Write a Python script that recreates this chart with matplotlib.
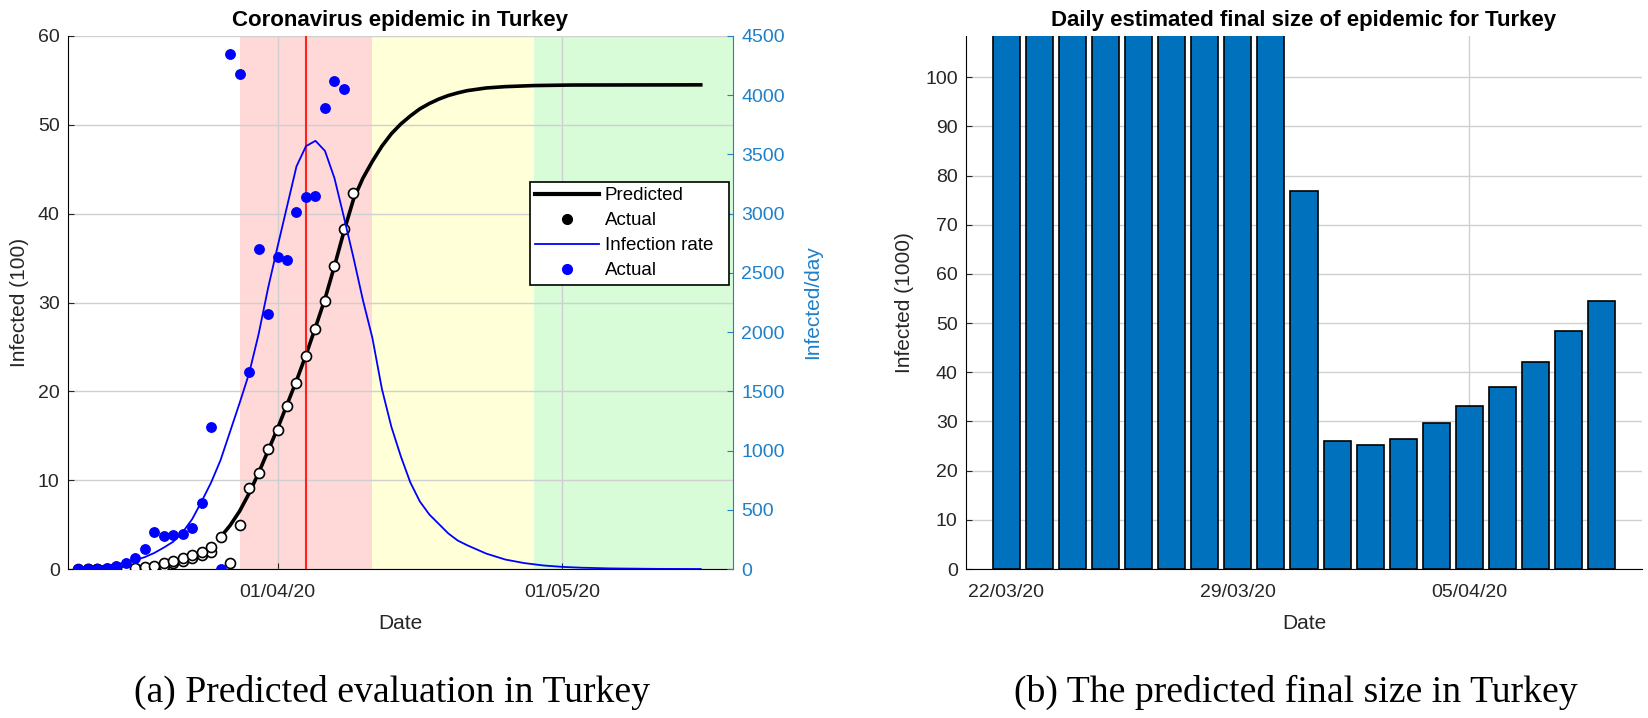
import matplotlib
matplotlib.use('Agg')
import matplotlib.pyplot as plt
from matplotlib.lines import Line2D

plt.rcParams['font.family'] = ['Liberation Sans', 'DejaVu Sans']

# ---- left panel data (x = days relative to 01/04/20) ----
actual_days = list(range(-21, 9))
actual_cum = [0.001, 0.001, 0.005, 0.006, 0.018, 0.047, 0.098, 0.191, 0.359, 0.670,
              0.947, 1.236, 1.529, 1.872, 2.433, 3.629, 0.64, 4.99, 9.17, 10.83,
              13.53, 15.68, 18.31, 20.92, 23.93, 27.07, 30.22, 34.11, 38.23, 42.28]
# second (lower) row of early circles
early_days = list(range(-20, -6))
early_cum = [0.001, 0.001, 0.005, 0.006, 0.018, 0.047, 0.098, 0.191, 0.359, 0.670,
             0.947, 1.236, 1.529, 1.872]
daily_days = list(range(-21, 8))
daily_actual = [0, 4, 1, 12, 29, 51, 93, 168, 311, 277, 289, 293, 343, 561, 1196,
                0, 4350, 4180, 1660, 2700, 2150, 2630, 2610, 3010, 3140, 3150, 3890, 4120, 4050]

pred_days = [-6, -5, -4, -3, -2, -1, 0, 1, 2, 3, 4, 5, 6, 7, 8, 9, 10, 11, 12, 13, 14,
             15, 16, 17, 18, 19, 20, 21, 22, 24, 27, 31, 44.6]
pred_cum = [3.6, 4.9, 6.5, 8.5, 10.8, 13.3, 15.8, 18.5, 21.2, 24.1, 27.2, 30.4, 34.1, 38.0,
            41.6, 44.0, 45.9, 47.6, 49.0, 50.1, 51.0, 51.8, 52.4, 52.9, 53.3, 53.6,
            53.85, 54.0, 54.15, 54.3, 54.42, 54.48, 54.5]

rate_days = [-21, -20, -19, -18, -17, -16, -15, -14, -13, -12, -11, -10, -9, -8, -7,
             -6, -5, -4, -3, -2, -1, 0, 1, 2, 3, 4, 5, 6, 7, 8, 9, 10, 11, 12, 13,
             14, 15, 16, 17, 18, 19, 20, 22, 24, 26, 28, 30, 32, 35, 40, 44.6]
rate_vals = [10, 15, 22, 30, 40, 55, 75, 100, 135, 180, 230, 310, 420, 570, 730,
             920, 1160, 1400, 1650, 1980, 2370, 2720, 3060, 3400, 3570, 3615, 3530,
             3300, 2970, 2630, 2270, 1950, 1520, 1200, 950, 730, 570, 460, 380, 300,
             240, 200, 130, 80, 50, 30, 18, 11, 5, 1, 0]

phase_edges = [-4, 10, 27, 48]          # red / yellow / green phases
peak_day = 3
xtick_days = [0, 30]
xtick_labels = ['01/04/20', '01/05/20']

# ---- right panel data ----
bar_labels = ['22/03/20', '29/03/20', '05/04/20']
bar_ticks = [0, 7, 14]
final_size = [150, 150, 150, 150, 150, 150, 150, 150, 150, 76.8,
              26.1, 25.2, 26.5, 29.7, 33.1, 37.0, 42.1, 48.4, 54.5]

txt = '#262626'
blue_ax = '#1f80c8'

fig = plt.figure(figsize=(16.49, 7.18), dpi=100)
ax1 = fig.add_axes([68 / 1649, 1 - 569 / 718, 665 / 1649, 533 / 718])
ax2 = ax1.twinx()

ax1.axvspan(phase_edges[0], phase_edges[1], color='#ffd8d8', lw=0, zorder=0)
ax1.axvspan(phase_edges[1], phase_edges[2], color='#ffffd8', lw=0, zorder=0)
ax1.axvspan(phase_edges[2], phase_edges[3], color='#d8fbd8', lw=0, zorder=0)
ax1.plot(pred_days, pred_cum, color='black', lw=2.6, zorder=3)
ax1.plot(early_days, early_cum, 'o', ms=7.2, mfc='white', mec='black', mew=1.2, zorder=4)
ax1.plot(actual_days, actual_cum, 'o', ms=7.2, mfc='white', mec='black', mew=1.2, zorder=4)
ax1.axvline(peak_day, color='#ff2020', lw=1.5, zorder=3)

ax2.plot(rate_days, rate_vals, color='#0000ff', lw=1.3)
ax2.plot(daily_days, daily_actual, 'o', ms=6.8, color='#0000ff')

ax1.set_xlim(-22.08, 48.0)
ax1.set_ylim(0, 60)
ax2.set_ylim(0, 4500)
ax1.set_xticks(xtick_days)
ax1.set_xticklabels(xtick_labels)
ax1.set_yticks(range(0, 61, 10))
ax2.set_yticks(range(0, 4501, 500))
ax1.grid(True, color='#d0d0d0', lw=1)

ax1.set_title('Coronavirus epidemic in Turkey', fontsize=16, fontweight='bold', pad=7, color='black')
ax1.set_xlabel('Date', fontsize=15, color=txt, labelpad=9.5)
ax1.set_ylabel('Infected (100)', fontsize=15, color=txt, labelpad=6)
ax2.set_ylabel('Infected/day', fontsize=15, color=blue_ax, labelpad=13)

ax1.spines['top'].set_visible(False)
ax2.spines['top'].set_visible(False)
ax1.spines['right'].set_visible(False)
ax2.spines['left'].set_visible(False)
ax2.spines['bottom'].set_visible(False)
ax2.spines['right'].set_color(blue_ax)
ax1.tick_params(direction='in', length=4, labelsize=14, colors=txt, pad=6)
ax1.tick_params(axis='x', pad=11)
ax2.tick_params(direction='in', length=4, labelsize=14, colors=blue_ax, pad=6)

handles = [Line2D([], [], color='black', lw=3),
           Line2D([], [], ls='none', marker='o', ms=7, color='black'),
           Line2D([], [], color='#0000ff', lw=1.3),
           Line2D([], [], ls='none', marker='o', ms=7, color='#0000ff')]
leg = ax2.legend(handles, ['Predicted', 'Actual', 'Infection rate  ', 'Actual'],
                 loc='upper right', bbox_to_anchor=(0.994, 0.727), fontsize=13.5,
                 fancybox=False, framealpha=1, edgecolor='black', borderaxespad=0,
                 handlelength=3.4, handletextpad=0.3, borderpad=0.3, labelspacing=0.42)
leg.get_frame().set_linewidth(1.2)

# ---- right panel ----
ax3 = fig.add_axes([966 / 1649, 1 - 569 / 718, 676 / 1649, 533 / 718])
ax3.bar(range(len(final_size)), final_size, width=0.82, color='#0072bd',
        edgecolor='black', lw=1.2, zorder=2)
ax3.set_xlim(-1.22, 19.22)
ax3.set_ylim(0, 108.4)
ax3.set_xticks(bar_ticks)
ax3.set_xticklabels(bar_labels)
ax3.set_yticks(range(0, 101, 10))
ax3.grid(True, color='#d0d0d0', lw=1, zorder=0)
ax3.set_axisbelow(True)
ax3.spines['top'].set_visible(False)
ax3.spines['right'].set_visible(False)
ax3.tick_params(direction='in', length=4, labelsize=14, colors=txt, pad=6)
ax3.tick_params(axis='x', pad=11)
ax3.set_title('Daily estimated final size of epidemic for Turkey', fontsize=16,
              fontweight='bold', pad=7, color='black')
ax3.set_xlabel('Date', fontsize=15, color=txt, labelpad=9.5)
ax3.set_ylabel('Infected (1000)', fontsize=15, color=txt, labelpad=8)

fig.text(392 / 1649, 1 - 692 / 718, '(a) Predicted evaluation in Turkey',
         family='Liberation Serif', fontsize=27.2, ha='center', va='center')
fig.text(1296 / 1649, 1 - 692 / 718, '(b) The predicted final size in Turkey',
         family='Liberation Serif', fontsize=27.2, ha='center', va='center')

fig.savefig('out.png', dpi=100)
